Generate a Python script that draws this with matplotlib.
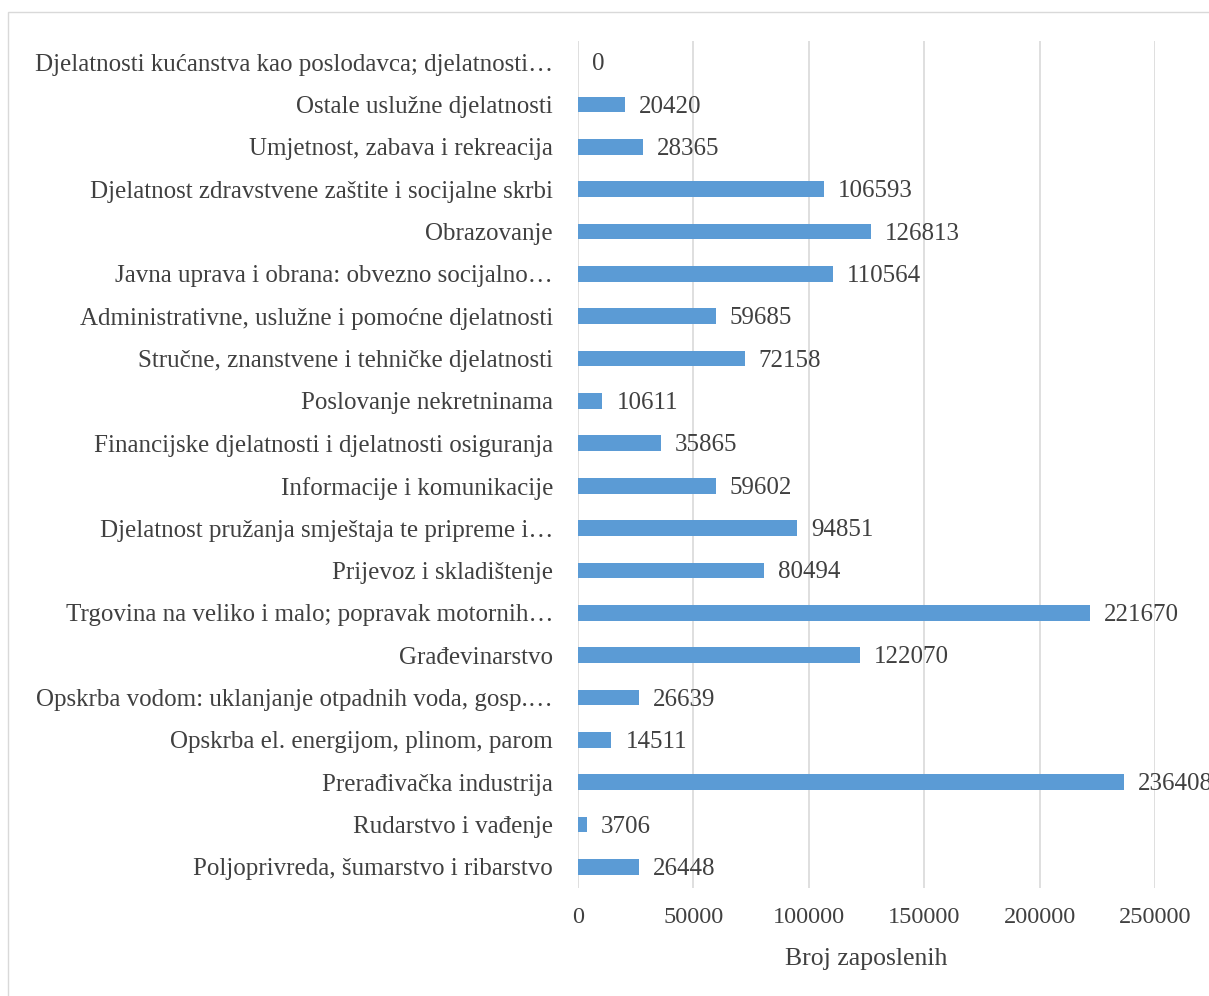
import matplotlib
matplotlib.use("Agg")
import matplotlib.pyplot as plt
from matplotlib.patches import Rectangle

plt.rcParams.update({
    "font.family": ["Liberation Serif", "DejaVu Serif"],
    "text.color": "#404040",
})

categories = [
    "Poljoprivreda, šumarstvo i ribarstvo",
    "Rudarstvo i vađenje",
    "Prerađivačka industrija",
    "Opskrba el. energijom, plinom, parom",
    "Opskrba vodom: uklanjanje otpadnih voda, gosp.…",
    "Građevinarstvo",
    "Trgovina na veliko i malo; popravak motornih…",
    "Prijevoz i skladištenje",
    "Djelatnost pružanja smještaja te pripreme i…",
    "Informacije i komunikacije",
    "Financijske djelatnosti i djelatnosti osiguranja",
    "Poslovanje nekretninama",
    "Stručne, znanstvene i tehničke djelatnosti",
    "Administrativne, uslužne i pomoćne djelatnosti",
    "Javna uprava i obrana: obvezno socijalno…",
    "Obrazovanje",
    "Djelatnost zdravstvene zaštite i socijalne skrbi",
    "Umjetnost, zabava i rekreacija",
    "Ostale uslužne djelatnosti",
    "Djelatnosti kućanstva kao poslodavca; djelatnosti…",
]
employees = [26448, 3706, 236408, 14511, 26639, 122070, 221670, 80494, 94851,
             59602, 35865, 10611, 72158, 59685, 110564, 126813, 106593,
             28365, 20420, 0]
x_ticks = [0, 50000, 100000, 150000, 200000, 250000]

BLUE = "#5B9BD5"
GRID = "#D9D9D9"
TEXT = "#404040"

fig = plt.figure(figsize=(12.09, 9.96), dpi=100)
fig.patches.append(Rectangle((8 / 1209, -0.1), 1.2, 1.1 - 12 / 996, transform=fig.transFigure,
                             fill=False, ec=GRID, lw=1.0))
ax = fig.add_axes([578 / 1209, 1 - 888 / 996, 577 / 1209, 847 / 996])

y = range(len(categories))
ax.barh(y, employees, height=0.37, color=BLUE, zorder=3)
for yi, v in zip(y, employees):
    ax.annotate(f"{v}", (v, yi), xytext=(10, -1.5), textcoords="offset points",
                ha="left", va="center", fontsize=18, color=TEXT, annotation_clip=False)

ax.set_xlim(0, 250000)
ax.set_ylim(-0.5, len(categories) - 0.5)
ax.set_xticks(x_ticks)
ax.set_xticklabels([str(t) for t in x_ticks])
ax.set_yticks(list(y))
ax.set_yticklabels(categories)
ax.tick_params(axis="y", length=0, pad=18, labelsize=18, labelcolor=TEXT)
ax.tick_params(axis="x", length=0, pad=14, labelsize=17.5, labelcolor=TEXT)
ax.grid(axis="x", color=GRID, lw=1.2, zorder=0)
for s in ax.spines.values():
    s.set_visible(False)
ax.set_xlabel("Broj zaposlenih", fontsize=18.5, color=TEXT, labelpad=14)

fig.savefig("out.png", dpi=100, facecolor="white")
